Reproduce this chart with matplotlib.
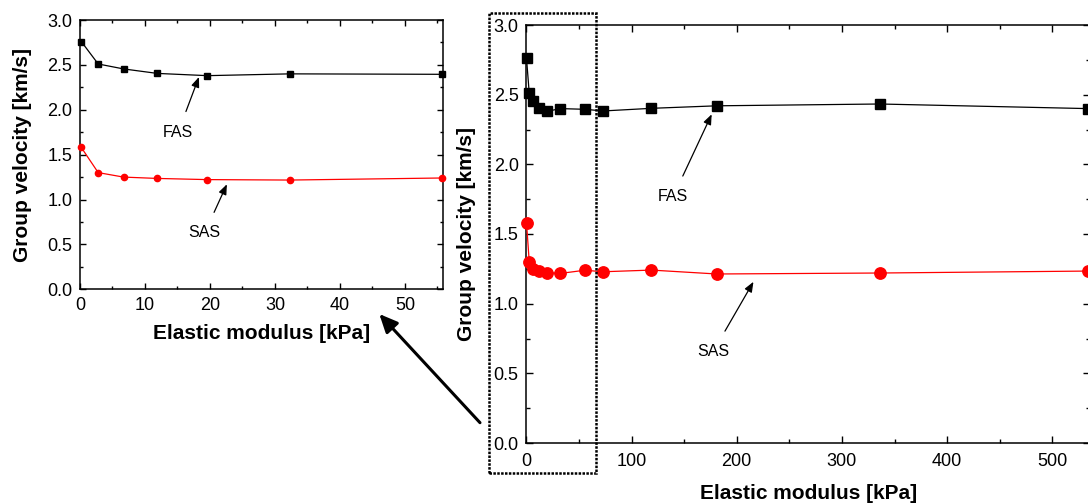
import matplotlib
matplotlib.use("Agg")
import matplotlib.pyplot as plt
from matplotlib.ticker import MultipleLocator, FormatStrFormatter
from matplotlib.patches import Rectangle, FancyArrowPatch

plt.rcParams['font.family'] = ['Liberation Sans', 'DejaVu Sans']

# Data
modulus = [0.2, 2.8, 6.7, 11.9, 19.6, 32.3, 55.7, 73, 119, 181, 336, 534]
fas_velocity = [2.76, 2.51, 2.455, 2.405, 2.38, 2.40, 2.395, 2.383, 2.402, 2.42, 2.433, 2.40]
sas_velocity = [1.58, 1.30, 1.25, 1.235, 1.222, 1.217, 1.24, 1.229, 1.241, 1.213, 1.22, 1.234]

inset_limit = 56
x_label = "Elastic modulus [kPa]"
y_label = "Group velocity [km/s]"

W, H = 1088, 504
fig = plt.figure(figsize=(W / 100, H / 100), dpi=100)


def px_axes(x0, y_top, x1, y_bot):
    return [x0 / W, 1 - y_bot / H, (x1 - x0) / W, (y_bot - y_top) / H]


def style_axes(ax, xmaj, xmin):
    ax.xaxis.set_major_locator(MultipleLocator(xmaj))
    ax.xaxis.set_minor_locator(MultipleLocator(xmin))
    ax.yaxis.set_major_locator(MultipleLocator(0.5))
    ax.yaxis.set_minor_locator(MultipleLocator(0.25))
    ax.yaxis.set_major_formatter(FormatStrFormatter('%.1f'))
    ax.tick_params(which='both', direction='in', top=True, right=True,
                   labelsize=13, width=1.0, pad=5.5)
    ax.tick_params(which='major', length=4)
    ax.tick_params(which='minor', length=2.5)
    for s in ax.spines.values():
        s.set_linewidth(1.1)
    ax.set_ylim(0, 3.0)


arrow_props = dict(arrowstyle='-|>,head_length=0.55,head_width=0.22',
                   color='black', lw=0.9, shrinkA=8, shrinkB=0,
                   mutation_scale=11)

# Left (zoomed) axes: only the points inside the zoom window
idx = [i for i, m in enumerate(modulus) if m <= inset_limit]
mL = [modulus[i] for i in idx]
fL = [fas_velocity[i] for i in idx]
sL = [sas_velocity[i] for i in idx]

axL = fig.add_axes(px_axes(80, 20, 443.3, 289.3))
axL.plot(mL, fL, color='black', lw=0.9, marker='s', ms=4.2,
         clip_on=False, zorder=3)
axL.plot(mL, sL, color='red', lw=0.9, marker='o', ms=4.5,
         clip_on=False, zorder=3)
axL.set_xlim(0, 55.9)
style_axes(axL, 10, 5)
axL.set_xlabel(x_label, fontsize=15, fontweight='bold')
axL.set_ylabel(y_label, fontsize=15, fontweight='bold')
axL.xaxis.set_label_coords(0.5, -0.128)
axL.yaxis.set_label_coords(-0.133, 0.5)
axL.annotate("FAS", xy=(18.3, 2.365), xytext=(15.1, 1.75), fontsize=11.5,
             ha='center', va='center', arrowprops=arrow_props)
axL.annotate("SAS", xy=(22.6, 1.17), xytext=(19.2, 0.63), fontsize=11.5,
             ha='center', va='center', arrowprops=arrow_props)

# Right (full) axes
axR = fig.add_axes(px_axes(526.3, 25, 1090, 443))
axR.plot(modulus, fas_velocity, color='black', lw=0.9, marker='s', ms=7.3,
         clip_on=False, zorder=3)
axR.plot(modulus, sas_velocity, color='red', lw=0.9, marker='o', ms=8.2,
         clip_on=False, zorder=3)
axR.set_xlim(0, 535.8)
style_axes(axR, 100, 50)
axR.tick_params(which='major', length=5)
axR.tick_params(which='minor', length=3)
axR.tick_params(axis='x', pad=7)
axR.set_xlabel(x_label, fontsize=15, fontweight='bold')
axR.set_ylabel(y_label, fontsize=15, fontweight='bold')
axR.xaxis.set_label_coords(0.5, -0.098)
axR.yaxis.set_label_coords(-0.0893, 0.5)
axR.annotate("FAS", xy=(176.2, 2.359), xytext=(139.7, 1.77), fontsize=11.5,
             ha='center', va='center', arrowprops=arrow_props)
axR.annotate("SAS", xy=(215.9, 1.157), xytext=(177.9, 0.66), fontsize=11.5,
             ha='center', va='center', arrowprops=arrow_props)

# Dotted box around the zoomed region
x0, y0, x1, y1 = 488.5, 12.5, 596, 473
rect = Rectangle((x0 / W, 1 - y1 / H), (x1 - x0) / W, (y1 - y0) / H,
                 transform=fig.transFigure, fill=False, edgecolor='black',
                 lw=1.8, linestyle=(0, (1, 0.55)), zorder=10)
fig.add_artist(rect)

# Big arrow from box to inset
arrow = FancyArrowPatch((480 / W, 1 - 422.7 / H), (379.3 / W, 1 - 314 / H),
                        transform=fig.transFigure,
                        arrowstyle='-|>,head_length=0.55,head_width=0.25',
                        mutation_scale=20, lw=2.2, color='black',
                        shrinkA=0, shrinkB=0)
fig.add_artist(arrow)

fig.savefig("out.png", dpi=100)
